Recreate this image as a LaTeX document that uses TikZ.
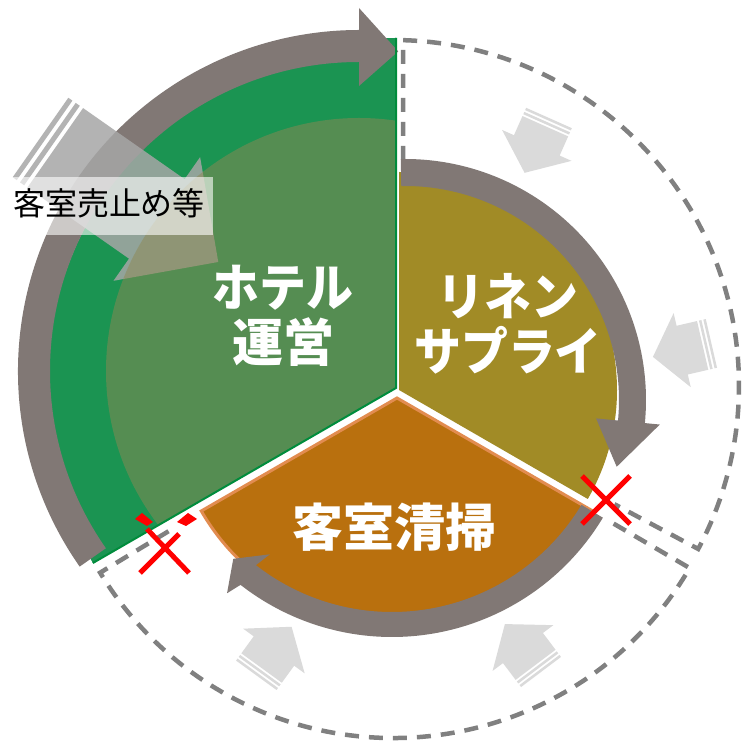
\documentclass[tikz,border=0pt]{standalone}
\usepackage{fontspec}
\newfontfamily\jp{Noto Sans CJK JP}
\newfontfamily\jpk[FakeStretch=0.92]{Noto Sans CJK JP}
\definecolor{bandgray}{RGB}{129,120,117}
\definecolor{gdark}{RGB}{27,148,82}
\definecolor{gborder}{RGB}{0,140,60}
\definecolor{glight}{RGB}{143,136,82}
\definecolor{olivec}{RGB}{161,139,38}
\definecolor{orangec}{RGB}{185,112,14}
\definecolor{orangeb}{RGB}{226,140,80}
\definecolor{lgray}{RGB}{218,218,218}
\definecolor{dashgray}{RGB}{128,128,128}
\definecolor{bigarrowc}{RGB}{166,166,166}

\newcommand{\stripearrow}[9]{%
 \begin{scope}[shift={(#1,#2)},rotate=#3]
  \pgfmathsetmacro\arrSa{#8}
  \pgfmathsetmacro\arrSb{1.8*#8}
  \pgfmathsetmacro\arrSc{2.8*#8}
  \pgfmathsetmacro\arrSd{3.6*#8}
  \pgfmathsetmacro\arrHb{#4-#5}
  \fill[#9] (0,-#6) rectangle (\arrSa,#6);
  \fill[#9] (\arrSb,-#6) rectangle (\arrSc,#6);
  \fill[#9] (\arrSd,-#6) -- (\arrHb,-#6) -- (\arrHb,-#7) -- (#4,0) -- (\arrHb,#7) -- (\arrHb,#6) -- (\arrSd,#6) -- cycle;
 \end{scope}}

\begin{document}
\begin{tikzpicture}[x=1pt,y=1pt,
  dashline/.style={draw=dashgray, line width=4.5pt, dash pattern=on 14pt off 10pt},
  band/.style={fill=bandgray},
  xmark/.style={draw=red, line width=5pt},
  biglabel/.style={text=white, font=\jp\bfseries\fontsize{51}{55}\selectfont, align=center, inner sep=0pt},
]
\useasboundingbox (0,0) rectangle (742,742);
\fill[white] (0,0) rectangle (742,742);

% dashed outlines (exploded pie)
\begin{scope}[shift={(393,356)}]
 \draw[dashline] (10,226) -- (88.34:346) arc[start angle=88.34,end angle=-28.1,radius=346] -- (-28.1:251);
\end{scope}
\begin{scope}[shift={(393.5,347)}]
 \draw[dashline] (-30.3:255) -- (-30.3:343) arc[start angle=-30.3,end angle=-148.8,radius=343] -- (-148.8:263);
\end{scope}

% green sector
\fill[gdark] (396,354) -- ++(90:350) arc[start angle=90,end angle=210,radius=350] -- cycle;

% band a
\begin{scope}[shift={(359,371)}]
 \fill[band] (215:341) arc[start angle=215,end angle=90,radius=341] -- (90:363) -- (83:322) -- (90:285) -- (90:309) arc[start angle=90,end angle=215,radius=309] -- cycle;
\end{scope}

% olive sector
\fill[olivec] (399,352) -- ++(90:218) arc[start angle=90,end angle=-30,radius=218] -- cycle;
% orange sector
\filldraw[fill=orangec, draw=orangeb, line width=3pt] (397,344) -- ++(-30:226) arc[start angle=-30,end angle=-150,radius=226] -- cycle;

% band b
\begin{scope}[shift={(405,342)}]
 \fill[band] (91:241) arc[start angle=91,end angle=-5.5,radius=241] -- (-5.5:256) -- (-17.5:222) -- (-5.5:192) -- (-5.5:214) arc[start angle=-5.5,end angle=91,radius=214] -- cycle;
\end{scope}
% band c
\begin{scope}[shift={(392,351)}]
 \fill[band] (-31:246) arc[start angle=-31,end angle=-128,radius=246] -- (-129.2:261) -- (-133.4:231) -- (-126.8:204) -- (-128:221) arc[start angle=-128,end angle=-31,radius=221] -- cycle;
\end{scope}

% small inward arrows
\stripearrow{549}{624}{-114}{60}{30}{25}{38}{2.5}{lgray}
\stripearrow{711.4}{398.6}{193}{60}{30}{25}{38}{2.5}{lgray}
\stripearrow{541}{70}{127}{60}{30}{25}{38}{2.5}{lgray}
\stripearrow{256.3}{66.7}{54}{60}{30}{25}{38}{2.5}{lgray}

% big arrow
\stripearrow{40.5}{604.5}{-35}{217}{75}{48.5}{75.5}{5}{bigarrowc, opacity=0.85}

% light overlay in green sector
\begin{scope}
 \clip (396,354) -- ++(90:350) arc[start angle=90,end angle=210,radius=350] -- cycle;
 \fill[glight, opacity=0.5] (359,371) circle[radius=253];
\end{scope}
\draw[gborder, line width=2pt] (396,704) -- (396,354) -- ++(210:350);

% label box
\fill[white, opacity=0.6] (8,507) rectangle (213,565);
\node[font=\jp\fontsize{32}{36}\selectfont, text=black, inner sep=0pt] (lbl) at (109,539) {客室売止め等};

% sector labels
\node[biglabel] (hotel) at (283,426) {{\jpk\bfseries ホテル}\\運営};
\node[biglabel] (linen) at (508,418) {{\jpk\bfseries リネン}\\{\jpk\bfseries サプライ}};
\node[biglabel] (clean) at (394,215) {客室清掃};

% red crosses
\draw[xmark] (582,266) -- (630,218);
\draw[xmark] (630,266) -- (582,218);
\draw[xmark] (140,169) -- (179,208);
\draw[xmark] (147,213) -- (189,169);
\fill[red] (135,223) -- (142,229) -- (153,220) -- (147,216) -- cycle;
\fill[red] (177,220) -- (188,229) -- (197,223) -- (186,216) -- cycle;
\end{tikzpicture}
\end{document}
